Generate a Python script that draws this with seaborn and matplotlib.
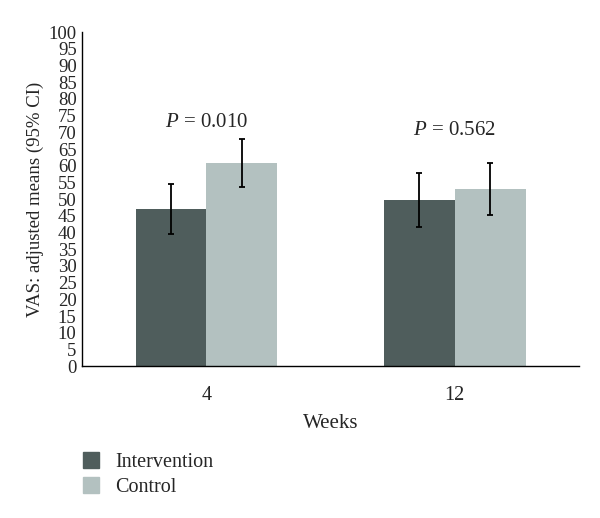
import numpy as np
import pandas as pd
import matplotlib
matplotlib.use("Agg")
import matplotlib.pyplot as plt
import seaborn as sns

# values
weeks = ["4", "12"]
groups = ["Intervention", "Control"]
intervention_means = [47.1, 49.7]
intervention_lower = [39.5, 41.7]
intervention_upper = [54.5, 57.7]
control_means = [60.7, 52.9]
control_lower = [53.5, 45.2]
control_upper = [67.9, 60.7]
p_labels = ["0.010", "0.562"]
p_heights = [72.8, 70.7]

colors = {"Intervention": "#4f5d5c", "Control": "#b3c1c0"}

sns.set_style("white")
plt.rcParams["font.family"] = ["Liberation Serif", "DejaVu Serif"]
plt.rcParams["mathtext.fontset"] = "custom"
plt.rcParams["mathtext.it"] = "Liberation Serif:italic"
plt.rcParams["mathtext.rm"] = "Liberation Serif"

df = pd.DataFrame({
    "Weeks": weeks * 2,
    "Group": [groups[0]] * 2 + [groups[1]] * 2,
    "Mean": intervention_means + control_means,
    "Lower": intervention_lower + control_lower,
    "Upper": intervention_upper + control_upper,
})

fig = plt.figure(figsize=(6, 5.18), dpi=100)
ax = fig.add_axes([0.137, 0.293, 0.828, 0.645])

sns.barplot(data=df, x="Weeks", y="Mean", hue="Group", order=weeks,
            hue_order=groups, palette=colors, errorbar=None,
            width=0.57, gap=0, saturation=1, linewidth=0, ax=ax,
            legend=False)

# error bars on the bar centres
for i, g in enumerate(groups):
    sub = df[df["Group"] == g].set_index("Weeks").loc[weeks]
    bars = ax.containers[i]
    xs = [b.get_x() + b.get_width() / 2 for b in bars]
    yerr = [sub["Mean"] - sub["Lower"], sub["Upper"] - sub["Mean"]]
    ax.errorbar(xs, sub["Mean"], yerr=yerr, fmt="none", ecolor="black",
                elinewidth=1.3, capsize=2.5, capthick=1.3)

for i, (lab, h) in enumerate(zip(p_labels, p_heights)):
    ax.text(i, h, f"$P$ = {lab}", ha="center", va="center", fontsize=15)

ax.set_ylim(0, 100)
ax.set_xlim(-0.5, 1.5)
ax.set_yticks(np.arange(0, 101, 5))
ax.set_xticks([-0.5, 0.5, 1.5], minor=True)
ax.tick_params(axis="x", which="major", length=0, labelsize=14.5, pad=14)
ax.tick_params(axis="x", which="minor", length=4, width=1, direction="out")
ax.tick_params(axis="y", length=3, width=1, direction="out", labelsize=13.5, pad=1)
ax.set_xlabel("Weeks", fontsize=15, labelpad=7)
ax.set_ylabel("VAS: adjusted means (95% CI)", fontsize=13.5, labelpad=3)
sns.despine(ax=ax)
for s in ["left", "bottom"]:
    ax.spines[s].set_color("black")
    ax.spines[s].set_linewidth(1)

handles = [plt.Rectangle((0, 0), 1, 1, color=colors[g]) for g in groups]
fig.legend(handles, groups, loc="upper left", bbox_to_anchor=(0.125, 0.142),
           frameon=False, fontsize=14.5, handlelength=0.8, handleheight=0.8,
           handletextpad=0.8, labelspacing=0.25, borderaxespad=0)

fig.savefig("out.png", dpi=100)
